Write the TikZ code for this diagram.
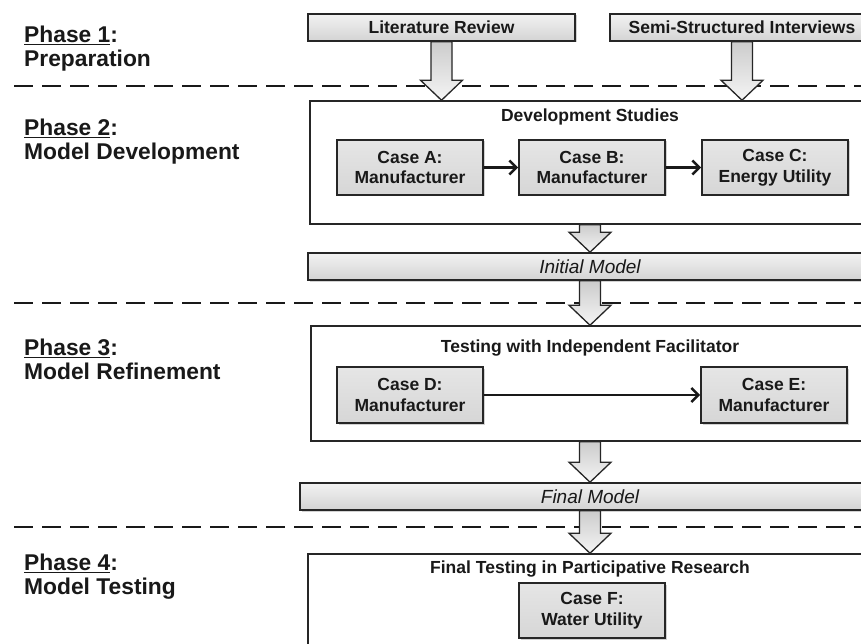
\documentclass[tikz,border=0pt]{standalone}
\usepackage{fontspec}
\setmainfont{Liberation Sans}
\usetikzlibrary{shadows,arrows.meta,calc}
\newcommand\blkarrow[2]{%
  \path[blk] let \p1=(#1), \p2=(#2) in
    (\x1-10.5pt,\y1) -- (\x1+10.5pt,\y1) -- (\x1+10.5pt,\y2+20pt) -- (\x1+21pt,\y2+20pt)
    -- (\x1,\y2) -- (\x1-21pt,\y2+20pt) -- (\x1-10.5pt,\y2+20pt) -- cycle;}
\begin{document}
\begin{tikzpicture}[x=1pt,y=-1pt,
  boxtxt/.style={font=\bfseries\fontsize{17.5}{20.5}\selectfont, text=black!90},
  phase/.style={font=\bfseries\fontsize{22.8}{24.5}\selectfont, text=black!90, align=left, anchor=north west, inner sep=0pt},
  shad/.style={drop shadow={shadow xshift=1.5pt,shadow yshift=-1.5pt,opacity=0.35}},
  casebox/.style={draw=black!85, line width=1.6pt, top color=gray!20, bottom color=gray!32, minimum width=146pt, minimum height=55pt, inner sep=0pt, align=center, boxtxt, shad},
  bar/.style={draw=black!85, line width=1.6pt, top color=gray!10, bottom color=gray!34, minimum height=27pt, inner sep=0pt, shad},
  container/.style={draw=black!85, line width=1.5pt, fill=white, inner sep=0pt},
  title/.style={boxtxt, anchor=base, inner sep=0pt},
  dashline/.style={line width=2pt, black!90, dash pattern=on 19pt off 9pt},
  blk/.style={draw=black!85, line width=1.3pt, left color=gray!40, right color=gray!8, shading angle=0},
  link/.style={line width=2.2pt, black!90, -{Straight Barb[length=7pt,width=14pt,line width=2.6pt]}}
]
\clip (0,0) rectangle (861,644);
\fill[white] (0,0) rectangle (861,644);

% dashed phase separators
\draw[dashline] (14,86) -- (875,86);
\draw[dashline] (14,303) -- (875,303);
\draw[dashline] (14,527) -- (875,527);

% phase labels
\node[phase] (p1) at (24,25.5) {\underline{Phase 1}:\\Preparation};
\node[phase] (p2) at (24,118.5) {\underline{Phase 2}:\\Model Development};
\node[phase] (p3) at (24,338.5) {\underline{Phase 3}:\\Model Refinement};
\node[phase] (p4) at (24,553.5) {\underline{Phase 4}:\\Model Testing};

% phase 1 inputs
\node[bar, boxtxt, minimum width=267pt] (lr) at (441.5,27.5) {Literature Review};
\node[bar, boxtxt, minimum width=264pt] (ssi) at (742,27.5) {Semi-Structured Interviews};

% phase 2
\node[container, minimum width=560pt, minimum height=123pt] (dev) at (590,162.5) {};
\node[title] (devt) at (590,122) {Development Studies};
\node[casebox] (ca) at (410,167.5) {Case A:\\Manufacturer};
\node[casebox] (cb) at (592,167.5) {Case B:\\Manufacturer};
\node[casebox] (cc) at (775,167.5) {Case C:\\Energy Utility};
\draw[link] (ca) -- (cb);
\draw[link] (cb) -- (cc);

\node[bar, minimum width=564pt, font=\itshape\fontsize{19}{22}\selectfont, text=black!90] (init) at (590,266.5) {Initial Model};

% phase 3
\node[container, minimum width=558pt, minimum height=115pt] (test) at (590,383.5) {};
\node[title] (testt) at (590,352) {Testing with Independent Facilitator};
\node[casebox, minimum height=56pt] (cd) at (410,395) {Case D:\\Manufacturer};
\node[casebox, minimum height=56pt] (ce) at (774,395) {Case E:\\Manufacturer};
\draw[link] (cd) -- (ce);

\node[bar, minimum width=580pt, font=\itshape\fontsize{19}{22}\selectfont, text=black!90] (final) at (590,496.5) {Final Model};

% phase 4
\node[container, minimum width=564pt, minimum height=126pt] (ft) at (590,617) {};
\node[title] (ftt) at (590,573) {Final Testing in Participative Research};
\node[casebox] (cf) at (592,610.5) {Case F:\\Water Utility};

% block arrows
\blkarrow{lr.south}{lr.south |- dev.north}
\blkarrow{ssi.south}{ssi.south |- dev.north}
\blkarrow{dev.south}{init.north}
\blkarrow{init.south}{test.north}
\blkarrow{test.south}{final.north}
\blkarrow{final.south}{ft.north}
\end{tikzpicture}
\end{document}
